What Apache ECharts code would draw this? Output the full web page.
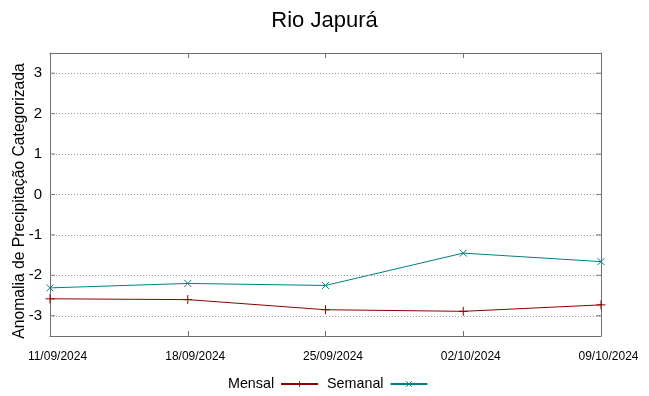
<!DOCTYPE html>
<html><head><meta charset="utf-8">
<script src="https://cdn.jsdelivr.net/npm/echarts@6/dist/echarts.min.js"></script>
<style>html,body{margin:0;padding:0;background:#fff}#c{width:649px;height:396px}</style>
</head><body><div id="c"></div>
<script>
const categories = ['11/09/2024','18/09/2024','25/09/2024','02/10/2024','09/10/2024'];
const mensal = [-2.58, -2.60, -2.85, -2.89, -2.73];
const semanal = [-2.31, -2.20, -2.25, -1.45, -1.66];
const yTicks = [-3,-2,-1,0,1,2,3];
const title = 'Rio Japurá';
const yName = 'Anomalia de Precipitação Categorizada';

const FONT = 'Liberation Sans';
const plus = 'path://M0,5L10,5M5,0L5,10';
const cross = 'path://M0,0L10,10M10,0L0,10';
const axisGray = '#707070';
const chart = echarts.init(document.getElementById('c'), null, {renderer:'canvas'});
chart.setOption({
  animation:false,
  title:{text:title, left:'center', top:5, textStyle:{fontFamily:FONT, fontSize:22, fontWeight:'normal', color:'#000'}},
  grid:{left:50, right:48, top:53, bottom:60, show:false},
  legend:{bottom:0, left:223, align:'right', itemWidth:37, itemHeight:7, itemGap:8,
    textStyle:{fontFamily:FONT, fontSize:14.3, color:'#000', padding:[0,2,0,0]},
    itemStyle:{borderWidth:1},
    data:[{name:'Mensal'},{name:'Semanal'}]},
  xAxis:[{type:'category', data:categories, boundaryGap:false,
    axisLine:{onZero:false, lineStyle:{color:axisGray, width:1}},
    axisTick:{inside:true, length:5, lineStyle:{color:axisGray}},
    axisLabel:{fontFamily:FONT, fontSize:12, color:'#000', margin:15, interval:0, padding:[0,0,0,15]},
    splitLine:{show:false}},
   {type:'category', data:categories, boundaryGap:false, position:'top',
    axisLine:{onZero:false, lineStyle:{color:axisGray, width:1}},
    axisTick:{inside:true, length:5, lineStyle:{color:axisGray}},
    axisLabel:{show:false}, splitLine:{show:false}}],
  yAxis:[{type:'value', min:-3.5, max:3.5, interval:0.5,
    axisLine:{show:true, onZero:false, lineStyle:{color:axisGray, width:1}},
    axisTick:{show:false},
    axisLabel:{fontFamily:FONT, fontSize:15, color:'#000', margin:8,
      formatter:v=> yTicks.includes(v) ? String(v) : ''},
    splitLine:{show:false}},
   {type:'value', min:-3.5, max:3.5, interval:0.5, position:'right',
    axisLine:{show:true, onZero:false, lineStyle:{color:axisGray, width:1}},
    axisTick:{show:false}, axisLabel:{show:false}, splitLine:{show:false}}],
  series:[
   {name:'Mensal', type:'line', data:mensal, symbol:plus, symbolSize:9, showSymbol:true,
    color:'#8b0000', lineStyle:{color:'#8b0000', width:1},
    itemStyle:{color:'#8b0000', borderColor:'#8b0000', borderWidth:1}, z:3},
   {name:'Semanal', type:'line', data:semanal, symbol:cross, symbolSize:7, showSymbol:true,
    color:'#008080', lineStyle:{color:'#008080', width:1},
    itemStyle:{color:'#008080', borderColor:'#008080', borderWidth:1}, z:3},
   {name:'grid', type:'line', data:[], silent:true,
    markLine:{silent:true, symbol:'none', label:{show:false},
      lineStyle:{color:'#999', type:[1,2], width:1},
      data: yTicks.map(v=>({yAxis:v}))}}
  ]
});
const gfx = [];
const xl = chart.convertToPixel({xAxisIndex:0}, categories[0]);
const xr = chart.convertToPixel({xAxisIndex:0}, categories[categories.length-1]);
yTicks.forEach(v=>{
  const p = chart.convertToPixel({yAxisIndex:0}, v);
  gfx.push({type:'line', shape:{x1:xl, y1:p, x2:xl+5, y2:p}, style:{stroke:axisGray, lineWidth:1}});
  gfx.push({type:'line', shape:{x1:xr-5, y1:p, x2:xr, y2:p}, style:{stroke:axisGray, lineWidth:1}});
});
gfx.push({type:'text', x:19.5, y:201, rotation:Math.PI/2,
  style:{text:yName, fontFamily:FONT, fontSize:15.7, fill:'#000', align:'center', verticalAlign:'middle'}});
chart.setOption({graphic:gfx});
</script></body></html>
